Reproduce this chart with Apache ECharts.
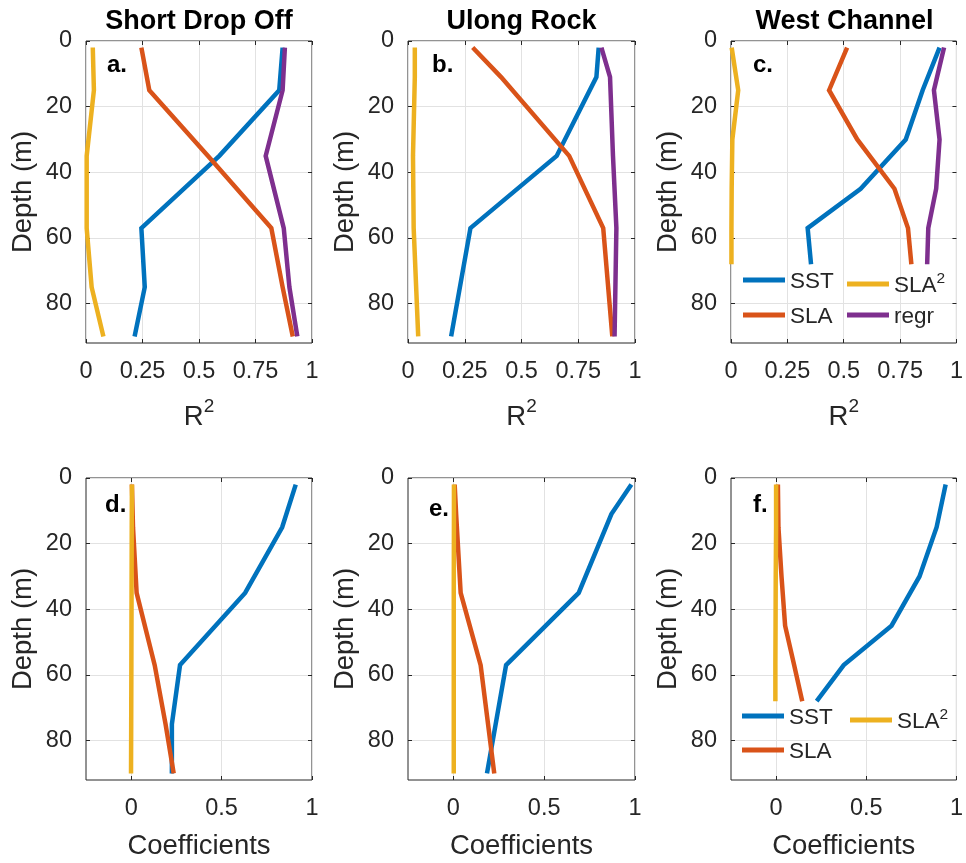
<!DOCTYPE html>
<html><head><meta charset="utf-8">
<script src="https://cdn.jsdelivr.net/npm/echarts@6/dist/echarts.min.js"></script>
<style>html,body{margin:0;padding:0;background:#fff}#c{width:966px;height:863px}</style>
</head><body><div id="c"></div>
<script>
// ---------------- data ----------------
const siteTitles = ['Short Drop Off', 'Ulong Rock', 'West Channel'];
const panelLabels = ['a.', 'b.', 'c.', 'd.', 'e.', 'f.'];
const depthTicks = [0, 20, 40, 60, 80];
const r2Ticks = [0, 0.25, 0.5, 0.75, 1];
const coefTicks = [0, 0.5, 1];

// depths (m) of each site
const depthA = [2, 15, 35, 57, 75, 90];
const depthB = [2, 11, 35, 57, 90];
const depthC = [2, 15, 30, 45, 57, 68];

// R^2 (top row)
const sstR2A  = [0.87, 0.855, 0.59, 0.245, 0.26, 0.215];
const slaR2A  = [0.245, 0.28, 0.54, 0.82, 0.87, 0.915];
const sla2R2A = [0.03, 0.035, 0.003, 0.003, 0.025, 0.077];
const regrR2A = [0.88, 0.87, 0.795, 0.875, 0.9, 0.935];

const sstR2B  = [0.84, 0.83, 0.655, 0.275, 0.19];
const slaR2B  = [0.285, 0.41, 0.71, 0.86, 0.9];
const sla2R2B = [0.03, 0.03, 0.022, 0.025, 0.045];
const regrR2B = [0.852, 0.89, 0.903, 0.918, 0.91];

const sstR2C  = [0.925, 0.85, 0.775, 0.575, 0.34, 0.355];
const slaR2C  = [0.515, 0.435, 0.56, 0.725, 0.785, 0.8];
const sla2R2C = [0.003, 0.032, 0.006, 0.003, 0.002, 0.002];
const regrR2C = [0.945, 0.9, 0.925, 0.91, 0.875, 0.87];

// Coefficients (bottom row)
const sstCoefA  = [0.91, 0.835, 0.63, 0.27, 0.225, 0.225];
const slaCoefA  = [0.004, 0.01, 0.03, 0.13, 0.19, 0.235];
const sla2CoefA = [0.004, 0.003, 0.002, 0.001, 0.0, -0.001];

const sstCoefB  = [0.98, 0.87, 0.69, 0.29, 0.185];
const slaCoefB  = [0.007, 0.015, 0.04, 0.15, 0.225];
const sla2CoefB = [0.003, 0.003, 0.002, 0.002, 0.002];

const sstCoefC  = [0.94, 0.89, 0.795, 0.64, 0.375, 0.225];
const slaCoefC  = [0.01, 0.013, 0.03, 0.05, 0.1, 0.145];
const sla2CoefC = [0.0, 0.0, -0.002, -0.003, -0.004, -0.004];

// ---------------- style ----------------
const fontFam = '"Liberation Sans", Arial, Helvetica, sans-serif';
const textGray = '#262626';
const gridGray = '#e2e2e2';
const colors = { SST: '#0072BD', SLA: '#D95319', SLA2: '#EDB120', regr: '#7E2F8E' };

const colLeft = [86, 408, 731];
const colWidth = [226, 227, 227];
const rowTop = [41, 478];
const rowH = 302;
const tickFont = 23.5;
const nameFont = 27.5;

const panels = [
  { depth: depthA, s: { SST: sstR2A, SLA: slaR2A, SLA2: sla2R2A, regr: regrR2A } },
  { depth: depthB, s: { SST: sstR2B, SLA: slaR2B, SLA2: sla2R2B, regr: regrR2B } },
  { depth: depthC, s: { SST: sstR2C, SLA: slaR2C, SLA2: sla2R2C, regr: regrR2C } },
  { depth: depthA, s: { SST: sstCoefA, SLA: slaCoefA, SLA2: sla2CoefA } },
  { depth: depthB, s: { SST: sstCoefB, SLA: slaCoefB, SLA2: sla2CoefB } },
  { depth: depthC, s: { SST: sstCoefC, SLA: slaCoefC, SLA2: sla2CoefC } }
];

const grid = [], xAxis = [], yAxis = [], series = [], graphic = [];

panels.forEach((p, i) => {
  const row = Math.floor(i / 3), col = i % 3;
  const isTop = row === 0;
  grid.push({ left: colLeft[col], top: rowTop[row], width: colWidth[col], height: rowH,
    show: true, borderColor: textGray, borderWidth: 1, backgroundColor: '#fff' });
  const xt = isTop ? r2Ticks : coefTicks;
  const xmin = isTop ? 0 : -0.25;
  xAxis.push({
    type: 'value', gridIndex: i, position: 'bottom', min: xmin, max: 1, interval: 0.25,
    axisLine: { show: false, onZero: false },
    axisTick: { show: true, inside: true, length: 4, lineStyle: { color: textGray }, customValues: xt },
    axisLabel: { show: true, margin: 17, fontSize: tickFont, color: textGray, fontFamily: fontFam, customValues: xt },
    splitLine: { show: true, lineStyle: { color: gridGray, width: 1 } },
    name: isTop ? '{a|R}{b|2}' : 'Coefficients',
    nameLocation: 'middle',
    nameGap: isTop ? 54 : 52,
    nameTextStyle: isTop ? {
      color: textGray, fontFamily: fontFam, fontSize: nameFont,
      rich: {
        a: { fontSize: nameFont, color: textGray, fontFamily: fontFam, lineHeight: 34, verticalAlign: 'bottom' },
        b: { fontSize: 19, color: textGray, fontFamily: fontFam, lineHeight: 17, verticalAlign: 'top' }
      }
    } : { color: textGray, fontFamily: fontFam, fontSize: nameFont }
  });
  xAxis.push({
    type: 'value', gridIndex: i, position: 'top', min: xmin, max: 1, interval: 0.25,
    axisLine: { show: false, onZero: false },
    axisTick: { show: true, inside: true, length: 4, lineStyle: { color: textGray }, customValues: xt },
    axisLabel: { show: false }, splitLine: { show: false }
  });
  yAxis.push({
    type: 'value', gridIndex: i, position: 'left', inverse: true, min: 0, max: 92, interval: 20,
    axisLine: { show: false, onZero: false },
    axisTick: { show: true, inside: true, length: 4, lineStyle: { color: textGray }, customValues: depthTicks },
    axisLabel: { show: true, margin: 14, fontSize: tickFont, color: textGray, fontFamily: fontFam, customValues: depthTicks },
    splitLine: { show: true, lineStyle: { color: gridGray, width: 1 } },
    name: 'Depth (m)', nameLocation: 'middle', nameGap: 49,
    nameTextStyle: { color: textGray, fontFamily: fontFam, fontSize: nameFont }
  });
  yAxis.push({
    type: 'value', gridIndex: i, position: 'right', inverse: true, min: 0, max: 92, interval: 20,
    axisLine: { show: false, onZero: false },
    axisTick: { show: true, inside: true, length: 4, lineStyle: { color: textGray }, customValues: depthTicks },
    axisLabel: { show: false }, splitLine: { show: false }
  });
  Object.keys(p.s).forEach((name) => {
    const vals = p.s[name];
    series.push({
      type: 'line', name: name, xAxisIndex: 2 * i, yAxisIndex: 2 * i,
      data: p.depth.map((d, k) => [vals[k], d]),
      symbol: 'none', color: colors[name],
      lineStyle: { width: 4.5, color: colors[name], cap: 'butt', join: 'miter' },
      z: 3
    });
  });
  if (isTop) {
    graphic.push({ type: 'text', x: colLeft[col] + colWidth[col] / 2, y: 22, z: 10,
      style: { text: siteTitles[col], fontSize: 27, fontWeight: 'bold', fontFamily: fontFam,
        fill: '#000', align: 'center', verticalAlign: 'middle' } });
  }
});

const labelPos = [[107, 65], [432, 65], [753, 65], [105, 505], [429, 509], [753, 505]];
panelLabels.forEach((t, i) => {
  graphic.push({ type: 'text', x: labelPos[i][0], y: labelPos[i][1], z: 10,
    style: { text: t, fontSize: 24, fontWeight: 'bold', fontFamily: fontFam,
      fill: '#000', align: 'left', verticalAlign: 'middle' } });
});

// legends (panel c and panel f)
const legendItems = [
  ['SST', 743, 283], ['SLA2', 847, 284], ['SLA', 743, 318], ['regr', 847, 318],
  ['SST', 742, 719], ['SLA2', 850, 720], ['SLA', 742, 753]
];
const legend = legendItems.map(([n, x, y]) => ({
  data: [n], left: x, top: y - 13, padding: 0, itemWidth: 42, itemHeight: 5, icon: 'rect',
  itemGap: 0, selectedMode: false,
  formatter: (name) => name === 'SLA2' ? '{n|SLA}{s|2}' : '{n|' + name + '}',
  textStyle: {
    color: textGray, fontFamily: fontFam, fontSize: 22.5,
    rich: {
      n: { fontSize: 22.5, color: textGray, fontFamily: fontFam, lineHeight: 26, verticalAlign: 'bottom' },
      s: { fontSize: 15.5, color: textGray, fontFamily: fontFam, lineHeight: 14, verticalAlign: 'top' }
    }
  }
}));

const chart = echarts.init(document.getElementById('c'), null, { renderer: 'canvas' });
chart.setOption({
  animation: false,
  backgroundColor: '#fff',
  textStyle: { fontFamily: fontFam },
  grid, xAxis, yAxis, series, legend, graphic
});
</script></body></html>
